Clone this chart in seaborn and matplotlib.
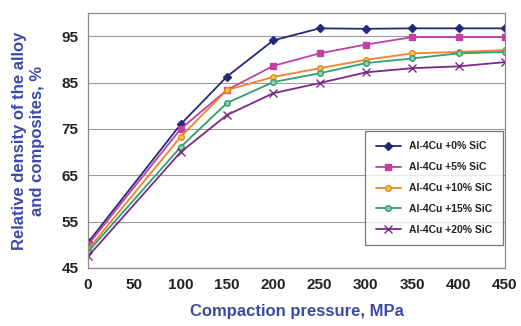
import matplotlib
matplotlib.use("Agg")
import matplotlib.pyplot as plt
import seaborn as sns
import pandas as pd

pressure = [0, 100, 150, 200, 250, 300, 350, 400, 450]
sic0 = [50.5, 76.0, 86.3, 94.1, 96.7, 96.6, 96.7, 96.7, 96.7]
sic5 = [50.0, 75.0, 83.4, 88.6, 91.3, 93.2, 94.8, 94.8, 94.8]
sic10 = [49.0, 73.3, 83.4, 86.2, 88.1, 89.9, 91.3, 91.6, 92.0]
sic15 = [48.5, 71.1, 80.6, 85.1, 87.0, 89.2, 90.2, 91.3, 91.6]
sic20 = [47.5, 70.0, 78.0, 82.7, 84.9, 87.2, 88.1, 88.5, 89.4]
labels = ["Al-4Cu +0% SiC", "Al-4Cu +5% SiC", "Al-4Cu +10% SiC",
          "Al-4Cu +15% SiC", "Al-4Cu +20% SiC"]

rows = []
for lab, vals in zip(labels, [sic0, sic5, sic10, sic15, sic20]):
    for p, v in zip(pressure, vals):
        rows.append({"pressure": p, "density": v, "series": lab})
df = pd.DataFrame(rows)

sns.set_style("white")
plt.rcParams["font.family"] = ["Liberation Sans", "DejaVu Sans"]

colors = ["#25297a", "#c23fa6", "#f0822a", "#2f9e74", "#7a2a86"]
mfc = ["#25297a", "#c23fa6", "#f5c842", "#8fd0a8", "#7a2a86"]
markers = ["D", "s", "o", "o", "x"]
msizes = [4, 5, 4, 4, 6]

fig = plt.figure(figsize=(5.21, 3.26), dpi=100)
ax = fig.add_axes([0.169, 0.178, 0.8, 0.782])

for i, lab in enumerate(labels):
    sub = df[df["series"] == lab]
    sns.lineplot(data=sub, x="pressure", y="density", ax=ax, color=colors[i],
                 marker=markers[i], markersize=msizes[i], markerfacecolor=mfc[i],
                 markeredgecolor=colors[i], markeredgewidth=1.0, linewidth=1.3,
                 label=lab)

ax.set_xlim(0, 450)
ax.set_ylim(45, 100)
ax.set_xticks(range(0, 451, 50))
ax.set_yticks([45, 55, 65, 75, 85, 95])
ax.yaxis.grid(True, color="#9a9a9a", linewidth=0.8)
ax.set_axisbelow(True)
for s in ax.spines.values():
    s.set_color("#8a8a8a")
    s.set_linewidth(0.9)
ax.tick_params(axis="both", labelsize=11, length=3, color="#8a8a8a",
               direction="out", pad=4)
for t in ax.get_xticklabels() + ax.get_yticklabels():
    t.set_fontweight("bold")
    t.set_color("#222222")

label_col = "#3a4aa6"
ax.set_xlabel("Compaction pressure, MPa", fontsize=12, fontweight="bold",
              color=label_col, labelpad=9)
ax.set_ylabel("Relative density of the alloy\nand composites, %", fontsize=12,
              fontweight="bold", color=label_col, labelpad=12, linespacing=1.25)

leg = ax.legend(loc="lower right", bbox_to_anchor=(1.0, 0.08), fontsize=7.5,
                frameon=True, fancybox=False, edgecolor="#555555",
                handlelength=2.4, labelspacing=1.05, borderpad=1.0,
                borderaxespad=0.2)
leg.get_frame().set_linewidth(0.9)
for t in leg.get_texts():
    t.set_fontweight("bold")
    t.set_color("#222222")

fig.savefig("out.png", dpi=100)
